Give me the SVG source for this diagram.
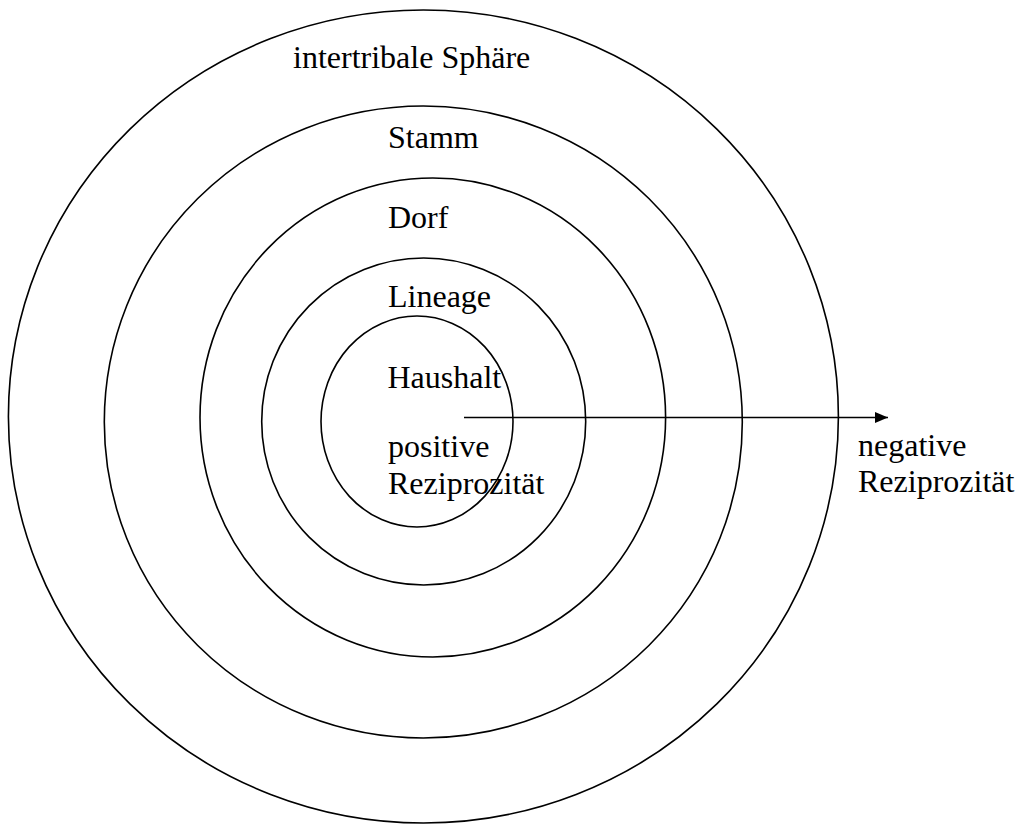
<svg xmlns="http://www.w3.org/2000/svg" width="1019" height="825" viewBox="0 0 1019 825">
<style>
.ring{fill:none;stroke:#000;stroke-width:1.6}
.lbl{font-family:"Liberation Serif","Times New Roman",serif;font-size:32px;fill:#000}
.conn{stroke:#000;stroke-width:1.6;fill:none}
</style>
<defs>
<marker id="arr" markerUnits="userSpaceOnUse" markerWidth="14" markerHeight="12" refX="13" refY="6" orient="auto">
<path d="M0,0.5 L13,6 L0,11.5 Z" fill="#000"/>
</marker>
</defs>
<rect width="1019" height="825" fill="#fff"/>
<g id="ring-intertribal">
<ellipse class="ring" cx="423.4" cy="416.5" rx="415" ry="406.5"/>
<text class="lbl" x="293" y="68">intertribale Sphäre</text>
</g>
<g id="ring-stamm">
<ellipse class="ring" cx="423.3" cy="422" rx="319" ry="316"/>
<text class="lbl" x="388" y="148">Stamm</text>
</g>
<g id="ring-dorf">
<ellipse class="ring" cx="432.8" cy="417.5" rx="232.8" ry="239.5"/>
<text class="lbl" x="388" y="228">Dorf</text>
</g>
<g id="ring-lineage">
<ellipse class="ring" cx="423.7" cy="421.5" rx="162" ry="163.5"/>
<text class="lbl" x="388" y="307">Lineage</text>
</g>
<g id="ring-haushalt">
<ellipse class="ring" cx="417" cy="421.5" rx="96" ry="105.5"/>
<text class="lbl" x="387.5" y="388">Haushalt</text>
<text class="lbl" x="388" y="457">positive</text>
<text class="lbl" x="388" y="494">Reziprozität</text>
</g>
<g id="label-negative">
<text class="lbl" x="858" y="456">negative</text>
<text class="lbl" x="858" y="492">Reziprozität</text>
</g>
<g id="connectors">
<line class="conn" x1="464" y1="417.5" x2="888" y2="417.5" marker-end="url(#arr)"/>
</g>
</svg>
